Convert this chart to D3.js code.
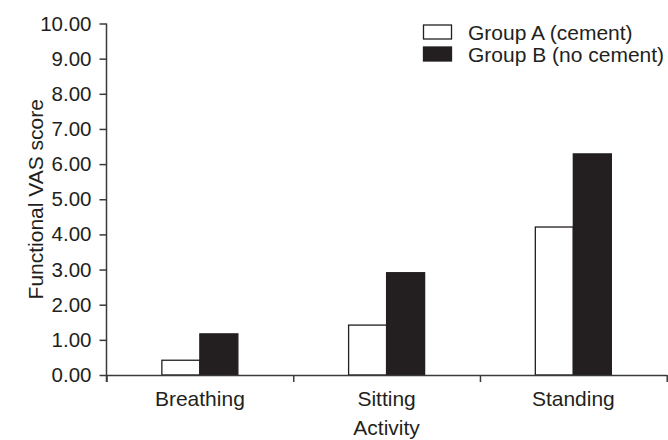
<!DOCTYPE html>
<html>
<head>
<meta charset="utf-8">
<script src="https://cdn.jsdelivr.net/npm/d3@7"></script>
<style>
  html, body { margin: 0; padding: 0; background: #fff; }
  svg { display: block; }
  text { font-family: "Liberation Sans", Arial, sans-serif; fill: #231f20; }
</style>
</head>
<body>
<svg id="chart" width="668" height="440"></svg>
<script>
const categories = ["Breathing", "Sitting", "Standing"];
const groups = ["Group A (cement)", "Group B (no cement)"];
const groupA = [0.42, 1.42, 4.21];
const groupB = [1.17, 2.91, 6.29];
const yTicks = [0, 1, 2, 3, 4, 5, 6, 7, 8, 9, 10];
const groupFill = ["#ffffff", "#231f20"];

(function () {
const svg = d3.select("#chart");
const mLeft = 106.5, mRight = 666.7, mTop = 23.5, mBottom = 375;
const ink = "#231f20";
const fs = 21;

const y = d3.scaleLinear().domain([0, 10]).range([mBottom, mTop]);
const x = d3.scaleBand().domain(categories).range([mLeft, mRight]).padding(0);
const xEdge = d3.scaleLinear().domain([0, categories.length]).range([mLeft, mRight]);
const bw = x.bandwidth();
const xg = d3.scaleBand().domain(groups).range([bw * 0.2965, bw * 0.7035]).padding(0);

// bars
const rows = categories.map((c, i) => ({ c, vals: [groupA[i], groupB[i]] }));
const g = svg.append("g");
rows.forEach(r => {
  r.vals.forEach((v, j) => {
    g.append("rect")
      .attr("x", x(r.c) + xg(groups[j]))
      .attr("y", y(v))
      .attr("width", xg.bandwidth())
      .attr("height", y(0) - y(v))
      .attr("fill", groupFill[j])
      .attr("stroke", ink)
      .attr("stroke-width", 1.3);
  });
});

// y axis
const yAxis = svg.append("g")
  .attr("transform", `translate(${mLeft},0)`)
  .call(d3.axisLeft(y).tickValues(yTicks).tickFormat(d3.format(".2f")).tickSize(7).tickSizeOuter(0).tickPadding(8));
yAxis.select(".domain").attr("stroke", "#3a3a3a").attr("stroke-width", 1.5)
  .attr("d", `M0,${mTop}V${mBottom + 7}`);
yAxis.selectAll(".tick line").attr("stroke", "#3a3a3a").attr("stroke-width", 1.5);
yAxis.selectAll(".tick text").attr("font-size", 20.5).attr("font-family", "Liberation Sans, Arial, sans-serif").attr("fill", ink);

// x axis (boundary ticks)
const xAxis = svg.append("g")
  .attr("transform", `translate(0,${mBottom})`)
  .call(d3.axisBottom(xEdge).tickValues(d3.range(categories.length + 1)).tickFormat("").tickSize(7).tickSizeOuter(0));
xAxis.select(".domain").attr("stroke", "#3a3a3a").attr("stroke-width", 1.5);
xAxis.selectAll(".tick line").attr("stroke", "#3a3a3a").attr("stroke-width", 1.5);

// category labels
const xLab = svg.append("g")
  .attr("transform", `translate(0,${mBottom})`)
  .call(d3.axisBottom(x).tickSize(0).tickPadding(16));
xLab.select(".domain").remove();
xLab.selectAll(".tick text").attr("font-size", fs).attr("font-family", "Liberation Sans, Arial, sans-serif").attr("fill", ink);

// axis titles
svg.append("text")
  .attr("x", (mLeft + mRight) / 2).attr("y", 435)
  .attr("text-anchor", "middle").attr("font-size", fs)
  .text("Activity");
svg.append("text")
  .attr("transform", `translate(42.5,${(mTop + mBottom) / 2}) rotate(-90)`)
  .attr("text-anchor", "middle").attr("font-size", fs)
  .text("Functional VAS score");

// legend
const lg = svg.append("g").attr("transform", "translate(423.5,25)");
groups.forEach((name, j) => {
  const row = lg.append("g").attr("transform", `translate(0,${j * 22})`);
  row.append("rect").attr("width", 28).attr("height", 14)
    .attr("fill", groupFill[j]).attr("stroke", ink).attr("stroke-width", 1.3);
  row.append("text").attr("x", 44.5).attr("y", 14.5).attr("font-size", fs).text(name);
});
})();
</script>
</body>
</html>
